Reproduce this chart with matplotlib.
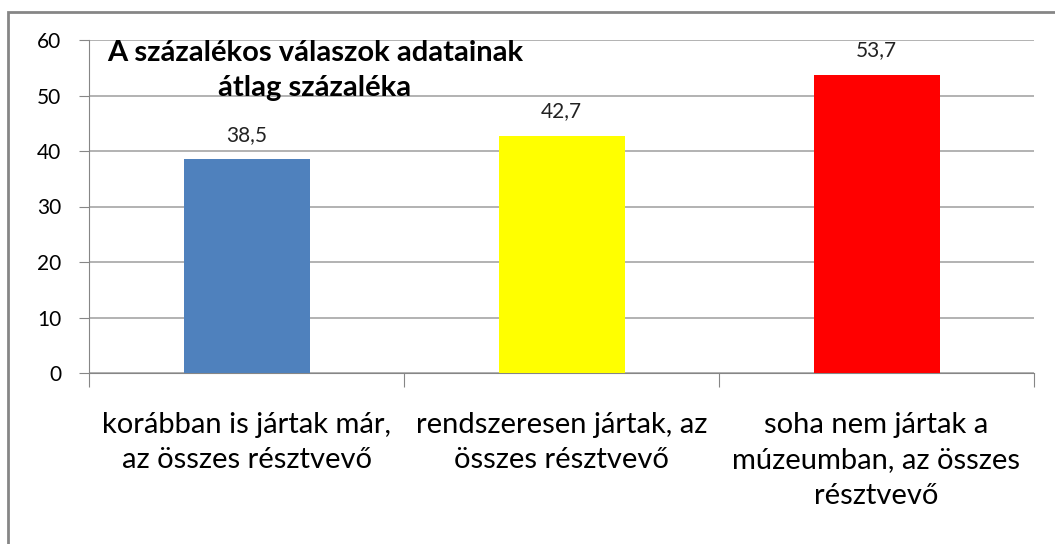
import matplotlib.pyplot as plt
from matplotlib.patches import Rectangle

categories = [
    'korábban is jártak már,\naz összes résztvevő',
    'rendszeresen jártak, az\nösszes résztvevő',
    'soha nem jártak a\nmúzeumban, az összes\nrésztvevő',
]
values = [38.5, 42.7, 53.7]
value_labels = ['38,5', '42,7', '53,7']
bar_colors = ['#4F81BD', '#FFFF00', '#FF0000']
title = 'A százalékos válaszok adatainak\nátlag százaléka'

plt.rcParams['font.family'] = ['Lato', 'DejaVu Sans']

fig = plt.figure(figsize=(10.55, 5.44), dpi=100)
ax = fig.add_axes([89 / 1055, 1 - 373 / 544, (1034 - 89) / 1055, (373 - 40) / 544])

# outer chart border
fig.patches.append(Rectangle((8 / 1055, -0.02), 1.1, 1 - 12 / 544 + 0.02,
                             transform=fig.transFigure, fill=False,
                             edgecolor='#868686', linewidth=2))

x = range(len(values))
ax.bar(x, values, width=0.4, color=bar_colors, zorder=3)
for xi, v, lab in zip(x, values, value_labels):
    ax.text(xi, v + 2.6, lab, ha='center', va='bottom', fontsize=15, color='#222222')

ax.set_xlim(-0.5, 2.5)
ax.set_ylim(0, 60)
ax.set_yticks(range(0, 61, 10))
ax.yaxis.grid(True, color='#A6A6A6', linewidth=1.2)
ax.set_axisbelow(True)

ax.set_xticks([-0.5, 0.5, 1.5, 2.5])
ax.set_xticklabels([])
ax.set_xticks(list(x), minor=True)
ax.set_xticklabels(categories, minor=True, fontsize=21, linespacing=1.45,
                   va='top')
ax.tick_params(axis='x', which='minor', length=0, pad=28)
ax.tick_params(axis='x', which='major', length=10, color='#868686')
ax.tick_params(axis='y', length=7, color='#868686', labelsize=15, pad=13)

for side in ['top', 'right']:
    ax.spines[side].set_visible(False)
ax.spines['left'].set_color('#868686')
ax.spines['bottom'].set_color('#868686')

ax.text(0.239, 1.0, title, transform=ax.transAxes, ha='center', va='top',
        fontsize=21, fontweight='bold', linespacing=1.45)

plt.savefig('out.png')
